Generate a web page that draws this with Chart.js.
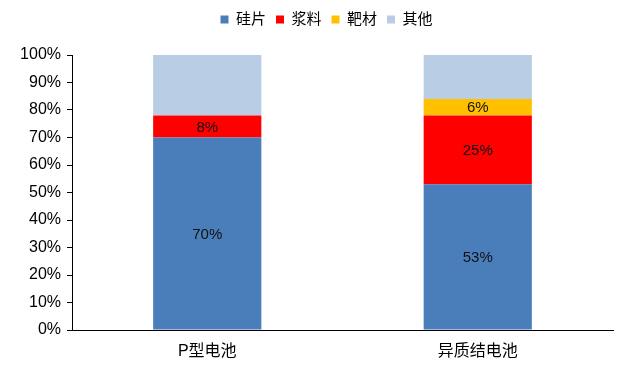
<!DOCTYPE html>
<html>
<head>
<meta charset="utf-8">
<script src="https://cdn.jsdelivr.net/npm/chart.js@4.4.1/dist/chart.umd.min.js"></script>
<style>
    html, body { margin: 0; padding: 0; background: #fff; }
    #wrap { width: 629px; height: 373px; position: relative; }
</style>
</head>
<body>
<div id="wrap"><canvas id="chart" width="629" height="373"></canvas></div>
<script>
const categories = ["P型电池", "异质结电池"];

const waferShare = [70, 53];
const pasteShare = [8, 25];
const targetShare = [0, 6];
const otherShare = [22, 16];

const yTicks = [0, 10, 20, 30, 40, 50, 60, 70, 80, 90, 100];

const FONT = "'Liberation Sans', Arial, 'Noto Sans CJK SC', sans-serif";

// draws the value text in the middle of each segment
const segmentLabels =
{
    id: "segmentLabels",
    beforeInit(chart)
    {
        // a bit more room under the legend
        const legend = chart.legend;

        if(legend)
        {
            const fit = legend.fit;

            legend.fit = function()
            {
                fit.call(this);
                this.height += 18;
            };
        }
    },
    afterLayout(chart)
    {
        // legend sits a little right of centre in the original
        if(chart.legend)
        {
            chart.legend.left += 20;
            chart.legend.right += 20;
        }
    },
    afterDatasetsDraw(chart)
    {
        const ctx = chart.ctx;

        ctx.save();
        ctx.font = `15px ${FONT}`;
        ctx.fillStyle = "#111";
        ctx.textAlign = "center";
        ctx.textBaseline = "middle";

        chart.data.datasets.forEach((ds, i) =>
        {
            if(!ds.showValue)
            {
                return;
            }

            const meta = chart.getDatasetMeta(i);

            meta.data.forEach((bar, j) =>
            {
                const v = ds.data[j];

                if(!v)
                {
                    return;
                }

                const mid = (bar.y + bar.base) / 2;
                ctx.fillText(`${v}%`, bar.x, mid + 1);
            });
        });

        ctx.restore();
    }
};

const datasets = [
    { label: "硅片", data: waferShare, backgroundColor: "#4A7EBB", showValue: true },
    { label: "浆料", data: pasteShare, backgroundColor: "#FF0000", showValue: true },
    { label: "靶材", data: targetShare, backgroundColor: "#FFC000", showValue: true },
    { label: "其他", data: otherShare, backgroundColor: "#B9CDE5", showValue: false }
];

datasets.forEach(ds =>
{
    ds.barPercentage = 0.4;
    ds.categoryPercentage = 1.0;
    ds.borderWidth = 0;
});

new Chart(
    document.getElementById("chart"),
    {
        type: "bar",
        data:
        {
            labels: categories,
            datasets
        },
        plugins: [segmentLabels],
        options:
        {
            responsive: false,
            animation: false,
            layout:
            {
                padding: { left: 0, right: 16, top: 2, bottom: 0 }
            },
            plugins:
            {
                legend:
                {
                    position: "top",
                    labels:
                    {
                        boxWidth: 8,
                        boxHeight: 8,
                        padding: 10,
                        color: "#000",
                        font: { family: FONT, size: 15 }
                    }
                },
                tooltip: { enabled: false }
            },
            scales:
            {
                x:
                {
                    stacked: true,
                    grid: { display: false },
                    border: { display: true, color: "#000", width: 1 },
                    ticks:
                    {
                        color: "#000",
                        padding: 4,
                        font: { family: FONT, size: 16 }
                    },
                    afterFit: s => { s.height = 43; }
                },
                y:
                {
                    stacked: true,
                    min: 0,
                    max: 100,
                    afterBuildTicks: s =>
                    {
                        s.ticks = yTicks.map(v => ({ value: v }));
                    },
                    grid:
                    {
                        display: true,
                        drawOnChartArea: false,
                        drawTicks: true,
                        tickLength: 5,
                        color: "#000"
                    },
                    border: { display: true, color: "#000", width: 1 },
                    ticks:
                    {
                        color: "#000",
                        padding: 6,
                        font: { family: FONT, size: 16 },
                        callback: v => `${v}%`
                    },
                    afterFit: s => { s.width = 72; }
                }
            }
        }
    }
);
</script>
</body>
</html>
